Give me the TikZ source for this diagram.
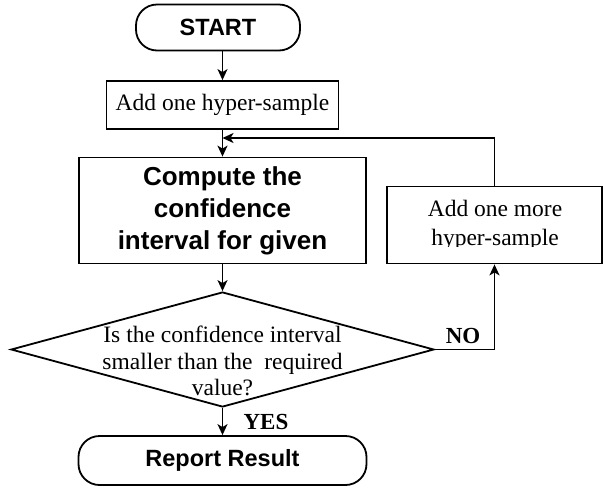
\documentclass[tikz,border=0pt]{standalone}
\usepackage{fontspec}
\setmainfont{Liberation Serif}
\setsansfont{Liberation Sans}
\usepackage{tikz}
\usetikzlibrary{shapes.geometric}
\usetikzlibrary{arrows.meta}
\usetikzlibrary{calc}

\begin{document}
\begin{tikzpicture}[x=1pt,y=-1pt, line width=1.8pt,
  term/.style={draw, rounded corners=21pt, inner sep=0pt, minimum height=46pt,
               font=\sffamily\bfseries\fontsize{23.5}{27}\selectfont},
  proc/.style={draw, rectangle, inner sep=0pt, align=center,
               font=\fontsize{23.5}{27}\selectfont},
  dec/.style={draw, diamond, inner sep=0pt, minimum width=423pt, minimum height=115pt},
  lbl/.style={anchor=base, font=\bfseries\fontsize{23}{27}\selectfont},
  flow/.style={-{Stealth[length=11pt,width=10pt,inset=3pt]}}
]
  \useasboundingbox (0,0) rectangle (603,491);

  \def\ax{222.5};

	%boxes of the main line
  \node[term, minimum width=164pt] (start) at (218,27.5) {START};
  \node[proc, minimum width=232pt, minimum height=48pt] (add) at (\ax,105) {Add one hyper-sample};
  \node[proc, minimum width=287pt, minimum height=106pt,
        font=\sffamily\bfseries\fontsize{26}{32}\selectfont] (comp) at (\ax,210.5)
        {Compute the\\confidence\\interval for given};
  \node[dec] (dec) at (\ax,349.5) {};
  \node[align=center, inner sep=0pt, font=\fontsize{23.5}{26.5}\selectfont] (dectxt) at (\ax,361)
        {Is the confidence interval\\smaller than the~ required\\value?};
  \node[term, minimum width=288pt, minimum height=49pt] (rep) at (\ax,460.5) {Report Result};

	%side box, its text is cut off
  \node[draw, minimum width=215pt, minimum height=77pt, inner sep=0pt] (more) at (494.5,225) {};
  \begin{scope}
    \clip (more.north west) rectangle (602,246.5);
    \node[align=center, inner sep=0pt, font=\fontsize{23.5}{29}\selectfont] (moretxt) at (495,225)
          {Add one more\\hyper-sample};
  \end{scope}

	%arrows
  \coordinate (join) at (\ax,138);
  \draw[flow] (start.south -| add.north) -- (add.north);
  \draw[flow] (add) -- (comp);
  \draw[flow] (comp) -- (dec);
  \draw[flow] (dec) -- (rep);
  \draw[flow] (dec.east) -| (more.south);
  \draw[flow] (more.north) |- (join);

	%answers
  \node[lbl] (no) at (463,343) {NO};
  \node[lbl] (yes) at (266,429) {YES};

\end{tikzpicture}
\end{document}
